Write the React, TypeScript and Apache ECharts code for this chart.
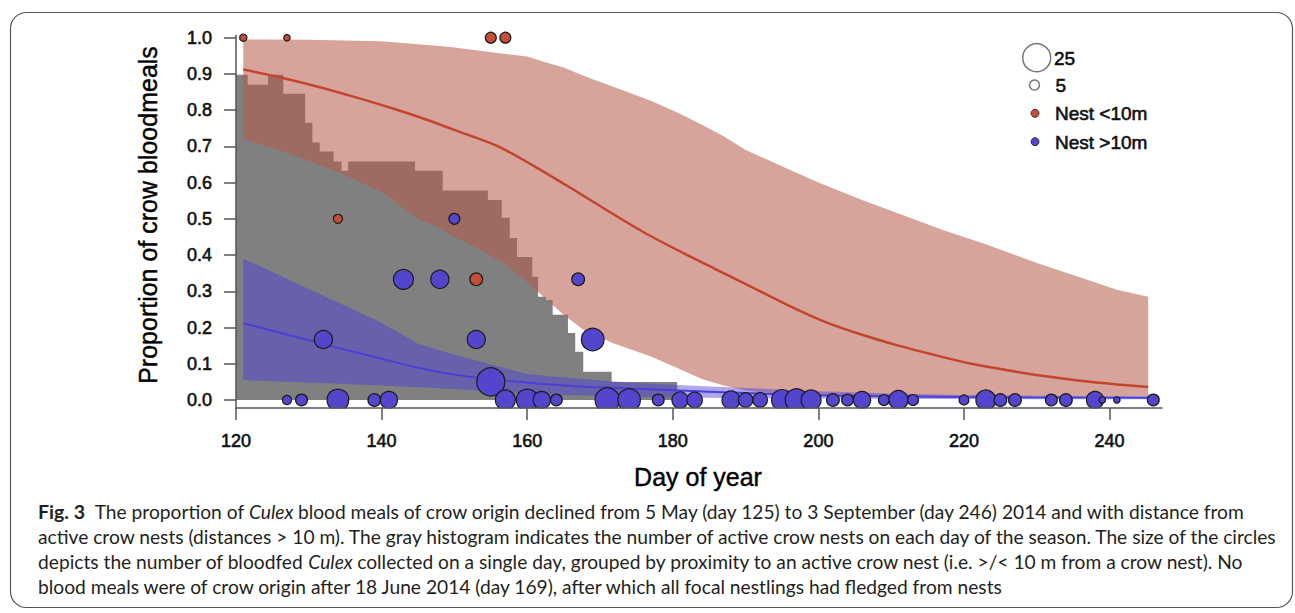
import React, { useEffect, useRef } from 'react';
import * as echarts from 'echarts';

const W = 1295;
const H = 613;

// Axis ticks
const xTicks = [120, 140, 160, 180, 200, 220, 240];
const yTicks = [0, 0.1, 0.2, 0.3, 0.4, 0.5, 0.6, 0.7, 0.8, 0.9, 1.0];

// Gray histogram of active nests (scaled to proportion axis), step starts
const histDays = [120, 121.6, 124.4, 126.5, 129.5, 130.5, 131.5, 133.4, 134.5, 135.4, 144.6, 148.4, 154.6, 156.5, 157.6, 158.6, 160.7, 161.5, 162.6, 163.5, 165.6, 166.6, 167.7, 171.6, 180.6];
const histValues = [0.898, 0.87, 0.898, 0.845, 0.765, 0.711, 0.686, 0.658, 0.633, 0.658, 0.633, 0.578, 0.552, 0.503, 0.447, 0.395, 0.34, 0.285, 0.276, 0.235, 0.185, 0.133, 0.078, 0.05, 0];

// Nest <10m confidence band
const redBandDays = [121, 125, 130, 135, 140, 145, 148, 150, 153, 157, 160, 162.5, 165, 168, 172, 177, 181, 184, 187, 190, 195, 200, 206, 211, 217, 223, 230, 236, 241, 245.3];
const redLower = [0.72, 0.695, 0.66, 0.62, 0.575, 0.5, 0.475, 0.45, 0.42, 0.375, 0.325, 0.28, 0.235, 0.19, 0.155, 0.12, 0.085, 0.058, 0.04, 0.026, 0.016, 0.012, 0.011, 0.01, 0.01, 0.01, 0.01, 0.01, 0.01, 0.01];
const redUpper = [0.995, 0.995, 0.994, 0.992, 0.99, 0.982, 0.977, 0.973, 0.965, 0.955, 0.948, 0.932, 0.918, 0.893, 0.863, 0.826, 0.79, 0.76, 0.728, 0.69, 0.645, 0.6, 0.552, 0.515, 0.47, 0.43, 0.378, 0.338, 0.304, 0.285];

// Nest <10m fitted line
const redMeanDays = [121, 126, 131, 136, 141, 146, 151, 156, 161, 166, 171, 176, 181, 186, 191, 196, 201, 206, 211, 216, 221, 226, 231, 236, 241, 245.3];
const redMean = [0.912, 0.891, 0.866, 0.838, 0.808, 0.775, 0.738, 0.7, 0.645, 0.585, 0.523, 0.463, 0.41, 0.36, 0.31, 0.26, 0.215, 0.18, 0.15, 0.124, 0.1, 0.082, 0.066, 0.053, 0.043, 0.036];

// Nest >10m confidence band
const blueBandDays = [121, 125, 130, 135, 140, 145, 150, 155, 160, 165, 170, 175, 180, 185, 190, 200, 210, 220, 230, 246];
const blueLower = [0.055, 0.052, 0.048, 0.044, 0.04, 0.035, 0.03, 0.024, 0.018, 0.014, 0.011, 0.009, 0.007, 0.006, 0.005, 0.004, 0.003, 0.003, 0.002, 0.002];
const blueUpper = [0.39, 0.353, 0.306, 0.26, 0.213, 0.155, 0.125, 0.098, 0.072, 0.062, 0.054, 0.047, 0.042, 0.037, 0.033, 0.024, 0.018, 0.014, 0.012, 0.01];

// Nest >10m fitted line
const blueMeanDays = [121, 125, 130, 135, 140, 145, 150, 155, 160, 165, 170, 175, 180, 190, 200, 210, 220, 230, 246];
const blueMean = [0.212, 0.191, 0.165, 0.139, 0.114, 0.089, 0.07, 0.058, 0.048, 0.04, 0.035, 0.031, 0.027, 0.019, 0.013, 0.01, 0.008, 0.007, 0.006];

// Observations: Nest <10m
const redDays = [121, 127, 134, 153, 155, 157];
const redProps = [1.0, 1.0, 0.5, 0.333, 1.0, 1.0];
const redCounts = [2, 1, 4, 8, 6, 6];

// Observations: Nest >10m
const blueDays = [132, 143, 148, 150, 153, 155, 167, 169,
  127, 129, 134, 139, 141, 157, 160, 162, 164, 171, 174, 178, 181, 183, 188, 190, 192, 195, 197, 199,
  202, 204, 206, 209, 211, 213, 220, 223, 225, 227, 232, 234, 238, 239, 241, 246];
const blueProps = [0.167, 0.333, 0.333, 0.5, 0.167, 0.05, 0.333, 0.167,
  0, 0, 0, 0, 0, 0, 0, 0, 0, 0, 0, 0, 0, 0, 0, 0, 0, 0, 0, 0,
  0, 0, 0, 0, 0, 0, 0, 0, 0, 0, 0, 0, 0, 0, 0, 0];
const blueCounts = [14, 16, 14, 6, 14, 25, 8, 19,
  4, 7, 18, 8, 13, 16, 18, 13, 7, 21, 19, 7, 12, 11, 14, 10, 10, 17, 19, 16,
  8, 7, 13, 6, 15, 6, 5, 16, 8, 8, 7, 8, 13, 1, 1, 7];

// Legend
const sizeLegend = [25, 5];
const groupLegend = ['Nest <10m', 'Nest >10m'];

const captionLines = [
  '{b|Fig. 3  }The proportion of {i|Culex }blood meals of crow origin declined from 5 May (day 125) to 3 September (day 246) 2014 and with distance from',
  'active crow nests (distances > 10 m). The gray histogram indicates the number of active crow nests on each day of the season. The size of the circles',
  'depicts the number of bloodfed {i|Culex }collected on a single day, grouped by proximity to an active crow nest (i.e. >/< 10 m from a crow nest). No',
  'blood meals were of crow origin after 18 June 2014 (day 169), after which all focal nestlings had fledged from nests',
];

const FONT = '"Liberation Sans", Arial, Helvetica, sans-serif';
const CAP_FONT = 'Lato, "Open Sans", sans-serif';
const RED = '#C64D38';
const BLUE = '#5446CC';

const sizeOf = (n: number) => 5.5 + 0.9 * n;

function bandSeries(name: string, days: number[], lower: number[], upper: number[], fill: string, z: number) {
  return {
    name, type: 'custom', z, silent: true, clip: true,
    dimensions: ['day', 'lower', 'upper'],
    encode: { x: 0, y: [1, 2] },
    data: days.map((d, i) => [d, lower[i], upper[i]]),
    renderItem: (params: any, api: any) => {
      if (params.dataIndexInside !== 0) return null;
      const n = params.dataInsideLength;
      const top: number[][] = [];
      const bottom: number[][] = [];
      for (let i = 0; i < n; i++) {
        const x = api.value(0, i);
        top.push(api.coord([x, api.value(2, i)]));
        bottom.push(api.coord([x, api.value(1, i)]));
      }
      return {
        type: 'polygon',
        shape: { points: top.concat(bottom.reverse()) },
        style: { fill },
      };
    },
  };
}

export default function App() {
  const ref = useRef<HTMLDivElement>(null);
  useEffect(() => {
    if (!ref.current) return;
    const chart = echarts.init(ref.current, undefined, { renderer: 'svg', width: W, height: H });

    // fit caption font size to reference line width
    const ctx = document.createElement('canvas').getContext('2d') as CanvasRenderingContext2D;
    const base = 18;
    ctx.font = `bold ${base}px ${CAP_FONT}`;
    const wB = ctx.measureText('Fig. 3  ').width;
    ctx.font = `italic ${base}px ${CAP_FONT}`;
    const wI = ctx.measureText('Culex ').width;
    ctx.font = `${base}px ${CAP_FONT}`;
    const wR = ctx.measureText('The proportion of ').width + ctx.measureText('blood meals of crow origin declined from 5 May (day 125) to 3 September (day 246) 2014 and with distance from').width;
    const capSize = Math.max(12, Math.min(22, base * 1209 / (wB + wI + wR)));

    const capY = [511, 536, 561, 586];

    const heavy = { textBorderColor: '#111', textBorderWidth: 0.6 };

    const txt = (text: string, x: number, y: number, size: number) => ({
      type: 'text', z: 20, x, y,
      style: { text, fontSize: size, fontFamily: FONT, fill: '#111', align: 'left', verticalAlign: 'middle', textAlign: 'left', textVerticalAlign: 'middle', stroke: '#111', lineWidth: 0.6 },
    });

    const graphics: any[] = [
      {
        type: 'rect', z: 20, silent: true,
        shape: { x: 10.5, y: 12.5, width: 1282, height: 595, r: 16 },
        style: { fill: 'none', stroke: '#555', lineWidth: 1.2 },
      },
      {
        type: 'rect', z: 6, silent: true,
        shape: { x: 228, y: 408.6, width: 945, height: 9 },
        style: { fill: '#fff' },
      },
      {
        type: 'text', z: 20, x: 148, y: 215, rotation: Math.PI / 2,
        style: { text: 'Proportion of crow bloodmeals', fontSize: 25, fontFamily: FONT, fill: '#000', align: 'center', verticalAlign: 'middle', textAlign: 'center', textVerticalAlign: 'middle', stroke: '#000', lineWidth: 0.4 },
      },
      {
        type: 'text', z: 20, x: 698, y: 477,
        style: { text: 'Day of year', fontSize: 25, fontFamily: FONT, fill: '#000', align: 'center', verticalAlign: 'middle', textAlign: 'center', textVerticalAlign: 'middle', stroke: '#000', lineWidth: 0.4 },
      },
      // size legend
      { type: 'circle', z: 20, shape: { cx: 1036.7, cy: 57.7, r: sizeOf(sizeLegend[0]) / 2 }, style: { fill: '#fff', stroke: '#777', lineWidth: 1.5 } },
      txt(String(sizeLegend[0]), 1054, 58.5, 19),
      { type: 'circle', z: 20, shape: { cx: 1034.5, cy: 85, r: sizeOf(sizeLegend[1]) / 2 }, style: { fill: '#fff', stroke: '#777', lineWidth: 1.5 } },
      txt(String(sizeLegend[1]), 1055.5, 85.5, 19),
      { type: 'circle', z: 20, shape: { cx: 1035, cy: 113.3, r: 4 }, style: { fill: RED, stroke: '#333', lineWidth: 1 } },
      txt(groupLegend[0], 1055, 113.8, 19),
      { type: 'circle', z: 20, shape: { cx: 1035, cy: 141.7, r: 4 }, style: { fill: BLUE, stroke: '#333', lineWidth: 1 } },
      txt(groupLegend[1], 1055, 142.2, 19),
    ];

    captionLines.forEach((line, i) => {
      graphics.push({
        type: 'text', z: 20, x: 38, y: capY[i],
        style: {
          text: line, fontSize: capSize, fontFamily: CAP_FONT, fill: '#231f20',
          align: 'left', verticalAlign: 'middle', textAlign: 'left', textVerticalAlign: 'middle',
          rich: {
            b: { fontSize: capSize * 1.02, fontWeight: 'bold', fontFamily: CAP_FONT, fill: '#231f20' },
            i: { fontSize: capSize, fontStyle: 'italic', fontFamily: CAP_FONT, fill: '#231f20' },
          },
        },
      });
    });

    const transparentLine = { opacity: 0, width: 0 };

    const option: any = {
      animation: false,
      backgroundColor: '#fff',
      textStyle: { fontFamily: FONT },
      grid: { left: 236, top: 35.5, width: 926, height: 372.5, containLabel: false, outerBoundsMode: 'none' },
      xAxis: {
        type: 'value', min: 120, max: 247.2, z: 10,
        axisLine: { onZero: false, lineStyle: { color: '#555', width: 1.5 } },
        axisTick: { length: 12, customValues: xTicks, lineStyle: { color: '#555', width: 1.5 } },
        axisLabel: { customValues: xTicks, margin: 24, fontSize: 18, color: '#111', fontFamily: FONT, ...heavy },
        splitLine: { show: false },
      },
      yAxis: {
        type: 'value', min: -0.0221, max: 1.006, z: 10,
        axisLine: { show: true, onZero: false, lineStyle: { color: '#555', width: 1.5 } },
        axisTick: { show: true, length: 12, customValues: yTicks, lineStyle: { color: '#555', width: 1.5 } },
        axisLabel: { customValues: yTicks, margin: 24, fontSize: 18, color: '#111', fontFamily: FONT, ...heavy, formatter: (v: number) => v.toFixed(1) },
        splitLine: { show: false },
      },
      series: [
        {
          name: 'Active nests', type: 'line', step: 'end', z: 1, silent: true,
          data: histDays.map((d, i) => [d, histValues[i]]),
          symbol: 'none', lineStyle: transparentLine,
          areaStyle: { color: '#808080', opacity: 1 },
        },
        bandSeries('redBand', redBandDays, redLower, redUpper, 'rgba(182,90,75,0.55)', 2),
        bandSeries('blueBand', blueBandDays, blueLower, blueUpper, 'rgba(72,60,222,0.45)', 2),
        {
          name: 'redMean', type: 'line', z: 3, silent: true, smooth: 0.3,
          data: redMeanDays.map((d, i) => [d, redMean[i]]),
          symbol: 'none', lineStyle: { color: '#C2452F', width: 2.5 },
        },
        {
          name: 'blueMean', type: 'line', z: 3, silent: true, smooth: 0.3,
          data: blueMeanDays.map((d, i) => [d, blueMean[i]]),
          symbol: 'none', lineStyle: { color: '#4B3FD6', width: 2 },
        },
        {
          name: 'Nest >10m', type: 'scatter', z: 4,
          data: blueDays.map((d, i) => [d, blueProps[i], blueCounts[i]]),
          symbolSize: (v: number[]) => sizeOf(v[2]),
          itemStyle: { color: BLUE, borderColor: '#1a1a1a', borderWidth: 1.2, opacity: 1 },
        },
        {
          name: 'Nest <10m', type: 'scatter', z: 4,
          data: redDays.map((d, i) => [d, redProps[i], redCounts[i]]),
          symbolSize: (v: number[]) => sizeOf(v[2]),
          itemStyle: { color: RED, borderColor: '#1a1a1a', borderWidth: 1.2, opacity: 1 },
        },
      ],
      graphic: { elements: graphics },
    };

    chart.setOption(option);
    return () => chart.dispose();
  }, []);

  return <div ref={ref} style={{ position: 'absolute', left: 0, top: 0, width: W, height: H, background: '#fff' }} />;
}
